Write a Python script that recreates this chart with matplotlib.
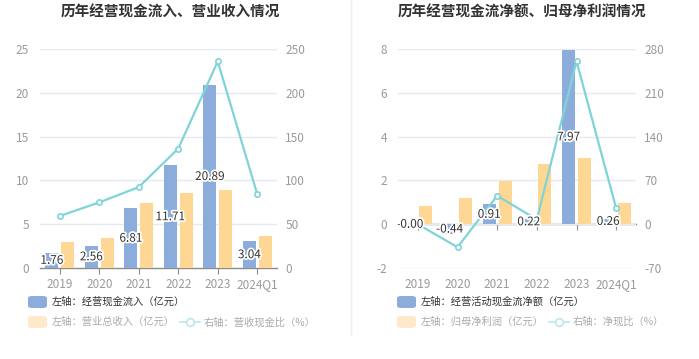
import numpy as np
import matplotlib
matplotlib.use("Agg")
import matplotlib.pyplot as plt
import matplotlib.patheffects as pe
from matplotlib.patches import FancyBboxPatch
from matplotlib.lines import Line2D

plt.rcParams["font.family"] = ["Noto Sans CJK SC", "DejaVu Sans"]
plt.rcParams["axes.unicode_minus"] = False

# Data
years = ["2019", "2020", "2021", "2022", "2023", "2024Q1"]

cash_in = [1.76, 2.56, 6.81, 11.71, 20.89, 3.04]        # 经营现金流入（亿元）
revenue = [2.97, 3.42, 7.38, 8.59, 8.86, 3.61]          # 营业总收入（亿元）
cash_ratio = [59.3, 74.9, 92.3, 136.3, 235.8, 84.2]     # 营收现金比（%）

op_cf = [-0.001, -0.44, 0.91, 0.22, 7.97, 0.26]         # 经营活动现金流净额（亿元）
op_cf_labels = ["-0.00", "-0.44", "0.91", "0.22", "7.97", "0.26"]
net_profit = [0.81, 1.19, 1.99, 2.75, 3.02, 0.97]       # 归母净利润（亿元）
net_ratio = [-0.1, -36.7, 45.5, 7.5, 260.5, 25.5]       # 净现比（%）

BLUE = "#8cacdb"
ORANGE = "#ffd794"
TEAL = "#7fd4d8"
GRID = "#e4e9f3"
TICK = "#9a9a9a"

W, H = 699, 359
fig = plt.figure(figsize=(W / 100, H / 100), dpi=100)


def px(x0, y0, x1, y1):
    return [x0 / W, 1 - y1 / H, (x1 - x0) / W, (y1 - y0) / H]


def panel(rect, bars1, labels1, bars2, line, ylim, yticks, y2lim, y2ticks):
    x = np.arange(len(years))
    ax = fig.add_axes(rect)
    ax.set_xlim(-0.5, len(years) - 0.5)
    ax.set_ylim(*ylim)
    ax.set_yticks(yticks)
    ax.grid(axis="y", color=GRID, linewidth=1)
    ax.set_axisbelow(True)
    for s in ["top", "left", "right", "bottom"]:
        ax.spines[s].set_visible(False)
    b = ax.bar(x - 0.2, bars1, width=0.33, color=BLUE, zorder=2)
    ax.bar(x + 0.2, bars2, width=0.33, color=ORANGE, zorder=2)
    ax.tick_params(axis="y", length=0, colors=TICK, labelsize=8.5, pad=8)
    ax.set_xticks(x)
    ax.set_xticklabels(years)
    ax.tick_params(axis="x", length=0, colors=TICK, labelsize=8.5, pad=7)

    # axis line at zero with ticks
    frac = (0 - ylim[0]) / (ylim[1] - ylim[0])
    sec = ax.secondary_xaxis(frac)
    sec.set_xticks(x)
    sec.set_xticklabels([])
    sec.spines["bottom"].set_color("#8c8c8c")
    sec.spines["bottom"].set_linewidth(1)
    sec.tick_params(axis="x", direction="out", length=4, color="#8c8c8c")

    ax2 = ax.twinx()
    ax2.set_ylim(*y2lim)
    ax2.set_yticks(y2ticks)
    for s in ["top", "left", "right", "bottom"]:
        ax2.spines[s].set_visible(False)
    ax2.tick_params(axis="y", length=0, colors=TICK, labelsize=8.5, pad=6)
    ax2.plot(x, line, color=TEAL, linewidth=1.6, marker="o", markersize=3.8,
             markerfacecolor="white", markeredgecolor=TEAL, markeredgewidth=1.2, zorder=3)

    txt = ax.bar_label(b, labels=labels1, label_type="center", fontsize=8.5, color="#333333")
    # move labels above the twin axes
    for t in txt:
        t.set_path_effects([pe.withStroke(linewidth=2.5, foreground="white")])
        t.remove()
        ax2.add_artist(t)
        t.set_transform(ax.transData)
        t.set_zorder(10)
    return ax, ax2


panel(px(40, 49, 277, 268), cash_in, [f"{v:.2f}" for v in cash_in], revenue, cash_ratio,
      (0, 25), [0, 5, 10, 15, 20, 25], (0, 250), [0, 50, 100, 150, 200, 250])
panel(px(398, 49, 636, 268), op_cf, op_cf_labels, net_profit, net_ratio,
      (-2, 8), [-2, 0, 2, 4, 6, 8], (-70, 280), [-70, 0, 70, 140, 210, 280])

# titles
fig.text(170 / W, 1 - 12 / H, "历年经营现金流入、营业收入情况", ha="center", va="center",
         fontsize=10.5, fontweight="bold", color="#333333")
fig.text(522 / W, 1 - 12 / H, "历年经营现金流净额、归母净利润情况", ha="center", va="center",
         fontsize=10.5, fontweight="bold", color="#333333")

# divider
fig.add_artist(Line2D([351 / W, 351 / W], [1 - 335 / H, 1.0], color="#eeeeee", linewidth=1))

LFS = 7.4


def legend_patch(x0, yc, color, text, tcolor):
    fig.add_artist(FancyBboxPatch((x0 / W, 1 - (yc + 6) / H), 19 / W, 12 / H,
                                  boxstyle="round,pad=0,rounding_size=0.006",
                                  transform=fig.transFigure, facecolor=color, edgecolor="none"))
    fig.text((x0 + 24) / W, 1 - yc / H, text, ha="left", va="center", fontsize=LFS, color=tcolor)


def legend_line(x0, yc, text):
    fig.add_artist(Line2D([x0 / W, (x0 + 20) / W], [1 - yc / H, 1 - yc / H],
                          color="#bfe9eb", linewidth=1.3))
    fig.add_artist(Line2D([(x0 + 10) / W], [1 - yc / H], marker="o", markersize=5.5,
                          markerfacecolor="white", markeredgecolor="#bfe9eb", markeredgewidth=1.3))
    fig.text((x0 + 24) / W, 1 - yc / H, text, ha="left", va="center", fontsize=LFS, color="#aaaaaa")


legend_patch(28, 302, BLUE, "左轴：经营现金流入（亿元）", "#333333")
legend_patch(28, 322, "#feeacb", "左轴：营业总收入（亿元）", "#aaaaaa")
legend_line(180, 322, "右轴：营收现金比（%）")

legend_patch(397, 302, BLUE, "左轴：经营活动现金流净额（亿元）", "#333333")
legend_patch(397, 322, "#feeacb", "左轴：归母净利润（亿元）", "#aaaaaa")
legend_line(549, 322, "右轴：净现比（%）")

fig.savefig("out.png", dpi=100)
